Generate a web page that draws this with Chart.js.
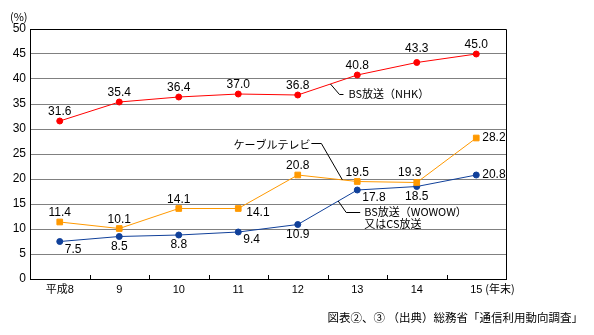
<!DOCTYPE html>
<html>
<head>
<meta charset="utf-8">
<script src="https://cdn.jsdelivr.net/npm/chart.js@4/dist/chart.umd.min.js"></script>
<style>
html,body{margin:0;padding:0;background:#fff;}
#wrap{width:594px;height:335px;}
</style>
</head>
<body>
<div id="wrap"><canvas id="c" width="594" height="335"></canvas></div>
<script>
// ---- data ----
const years = ['平成8', '9', '10', '11', '12', '13', '14', '15'];
const lastYearSuffix = '(年末)';
const bsNHK = [31.6, 35.4, 36.4, 37.0, 36.8, 40.8, 43.3, 45.0];
const cableTV = [11.4, 10.1, 14.1, 14.1, 20.8, 19.5, 19.3, 28.2];
const bsWowowCS = [7.5, 8.5, 8.8, 9.4, 10.9, 17.8, 18.5, 20.8];
const yTickValues = [0, 5, 10, 15, 20, 25, 30, 35, 40, 45, 50];
const unitLabel = '(%)';
const caption = '図表②、③ （出典）総務省「通信利用動向調査」';

// label placement codes (styling, not data)
const nhkPlace = ['a', 'a', 'a', 'a', 'a', 'a', 'A', 'a'];
const cablePlace = ['a', 'a', 'a', 'rl', 'a', 'a', 'al', 'r'];
const wowowPlace = ['rb', 'b', 'b', 'rb', 'b', 'rb', 'b', 'r'];

const PLACE = {
  a:  {dx: 0,  dy: -9,  align: 'center'},
  A:  {dx: 0,  dy: -14, align: 'center'},
  al: {dx: -7, dy: -10, align: 'center'},
  b:  {dx: 0,  dy: 10,  align: 'center'},
  r:  {dx: 6,  dy: 0,   align: 'left'},
  rl: {dx: 8,  dy: 4,   align: 'left'},
  rb: {dx: 5,  dy: 8,   align: 'left'}
};

const RED = '#ff0000', ORANGE = '#ff9900', BLUE = '#10409a';
const NUMFONT = '12px "Liberation Sans", Arial, sans-serif';
const JPFONT = '11px "Noto Sans CJK JP", sans-serif';

const callouts = [
  {series: 0, at: 4.55, pts: [[9, 10], [13, 10]], text: ['BS放送（NHK）'], tx: 18, ty: 10, align: 'left'},
  {series: 1, at: 4.75, pts: [[-21, -37], [-31, -37]], text: ['ケーブルテレビ'], tx: -32, ty: -35, align: 'right'},
  {series: 2, at: 4.68, pts: [[8, 11], [22, 11]], text: ['BS放送（WOWOW）', '又はCS放送'], tx: 26, ty: 11, align: 'left'}
];

const extras = {
  id: 'extras',
  beforeDatasetsDraw(chart) {
    const {ctx, chartArea: a, scales: {x}} = chart;
    ctx.save();
    ctx.strokeStyle = '#000';
    ctx.lineWidth = 1;
    ctx.beginPath();
    ctx.rect(Math.round(a.left) + 0.5, Math.round(a.top) + 0.5, Math.round(a.right - a.left), Math.round(a.bottom - a.top));
    ctx.stroke();
    // inward tick marks at category boundaries
    ctx.beginPath();
    for (let i = 0; i < years.length - 1; i++) {
      const px = Math.round((x.getPixelForValue(i) + x.getPixelForValue(i + 1)) / 2) + 0.5;
      ctx.moveTo(px, a.bottom);
      ctx.lineTo(px, a.bottom - 4);
    }
    ctx.stroke();
    ctx.restore();
  },
  afterDatasetsDraw(chart) {
    const {ctx, chartArea: a, scales: {x, y}} = chart;
    ctx.save();
    // data labels
    const sets = [[bsNHK, nhkPlace], [cableTV, cablePlace], [bsWowowCS, wowowPlace]];
    ctx.font = NUMFONT;
    ctx.fillStyle = '#000';
    ctx.textBaseline = 'middle';
    sets.forEach(([vals, place]) => {
      vals.forEach((v, i) => {
        const p = PLACE[place[i]];
        ctx.textAlign = p.align;
        ctx.fillText(v.toFixed(1), x.getPixelForValue(i) + p.dx, y.getPixelForValue(v) + p.dy);
      });
    });
    // callouts
    const seriesList = [bsNHK, cableTV, bsWowowCS];
    ctx.strokeStyle = '#000';
    ctx.lineWidth = 1;
    ctx.font = JPFONT;
    callouts.forEach(c => {
      const s = seriesList[c.series];
      const i0 = Math.floor(c.at), f = c.at - i0;
      const v = s[i0] + (s[i0 + 1] - s[i0]) * f;
      const ax = x.getPixelForValue(c.at), ay = y.getPixelForValue(v);
      ctx.beginPath();
      ctx.moveTo(ax, ay);
      c.pts.forEach(([dx, dy]) => ctx.lineTo(ax + dx, Math.round(ay + dy) + 0.5));
      ctx.stroke();
      ctx.textAlign = c.align;
      c.text.forEach((t, k) => ctx.fillText(t, ax + c.tx, ay + c.ty + k * 12));
    });
    // unit, suffix, caption
    ctx.textAlign = 'left';
    ctx.font = JPFONT;
    ctx.fillText(unitLabel, a.left - 20, a.top - 12);
    const lastX = x.getPixelForValue(years.length - 1);
    ctx.fillText(lastYearSuffix, lastX + 9, a.bottom + 10);
    ctx.font = '11.5px "Noto Sans CJK JP", sans-serif';
    ctx.textAlign = 'right';
    ctx.fillText(caption, 583, 318);
    ctx.restore();
  }
};

new Chart(document.getElementById('c'), {
  type: 'line',
  data: {
    labels: years,
    datasets: [
      {data: bsNHK, borderColor: RED, backgroundColor: RED, pointBackgroundColor: RED, pointBorderColor: RED,
       pointStyle: 'circle', pointRadius: 3, pointBorderWidth: 1, borderWidth: 1, tension: 0},
      {data: cableTV, borderColor: ORANGE, backgroundColor: ORANGE, pointBackgroundColor: ORANGE, pointBorderColor: ORANGE,
       pointStyle: 'rect', pointRadius: 4, pointBorderWidth: 1, borderWidth: 1, tension: 0},
      {data: bsWowowCS, borderColor: BLUE, backgroundColor: BLUE, pointBackgroundColor: BLUE, pointBorderColor: BLUE,
       pointStyle: 'circle', pointRadius: 3, pointBorderWidth: 1, borderWidth: 1, tension: 0}
    ]
  },
  options: {
    responsive: false,
    animation: false,
    events: [],
    layout: {padding: {top: 29, right: 88, left: 0, bottom: 0}},
    plugins: {legend: {display: false}, tooltip: {enabled: false}, title: {display: false}},
    scales: {
      x: {
        type: 'category',
        offset: true,
        grid: {display: false, drawTicks: false, offset: true},
        border: {display: true, color: '#000', width: 1},
        ticks: {color: '#000', padding: 4, font: {family: '"Liberation Sans", "Noto Sans CJK JP", sans-serif', size: 11}, maxRotation: 0, autoSkip: false},
        afterFit: s => { s.height = 56; }
      },
      y: {
        min: 0, max: 50,
        afterBuildTicks: s => { s.ticks = yTickValues.map(v => ({value: v})); },
        grid: {color: ctx => (ctx.tick && (ctx.tick.value === 0 || ctx.tick.value === 50)) ? '#000' : '#808080', lineWidth: 1, drawTicks: false},
        border: {display: true, color: '#000', width: 1},
        ticks: {color: '#000', padding: 4, font: {family: '"Liberation Sans", Arial, sans-serif', size: 12}},
        afterFit: s => { s.width = 30; }
      }
    }
  },
  plugins: [extras]
});
</script>
</body>
</html>
